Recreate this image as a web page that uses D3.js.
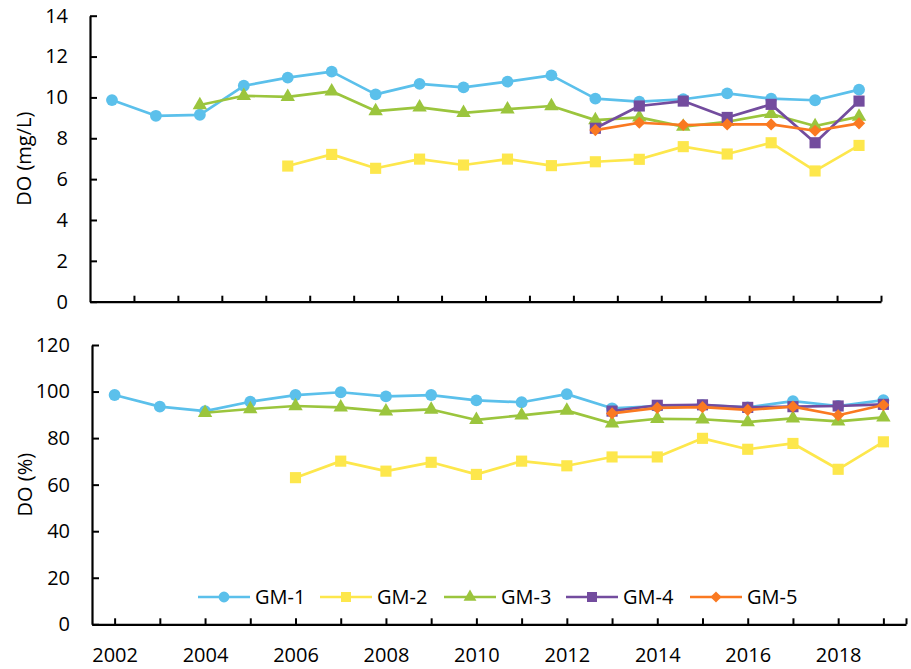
<!DOCTYPE html>
<html>
<head>
<meta charset="utf-8">
<script src="https://cdn.jsdelivr.net/npm/d3@7"></script>
<style>
  html, body { margin: 0; padding: 0; background: #fff; }
  svg { display: block; font-family: "Open Sans", "Noto Sans", sans-serif; }
</style>
</head>
<body>
<svg id="chart" width="911" height="669"></svg>
<script>
// Years sampled
const years = [2002, 2003, 2004, 2005, 2006, 2007, 2008, 2009, 2010,
               2011, 2012, 2013, 2014, 2015, 2016, 2017, 2018, 2019];

// Station names
const stations = ["GM-1", "GM-2", "GM-3", "GM-4", "GM-5"];

// Dissolved oxygen concentration (mg/L); null = not sampled
const doMgGM1 = [9.87, 9.1, 9.15, 10.57, 10.97, 11.26, 10.15, 10.66, 10.49, 10.77, 11.08, 9.94, 9.79, 9.91, 10.2, 9.94, 9.86, 10.38];
const doMgGM2 = [null, null, null, null, 6.64, 7.21, 6.53, 6.98, 6.69, 6.98, 6.66, 6.85, 6.97, 7.59, 7.23, 7.78, 6.4, 7.65];
const doMgGM3 = [null, null, 9.63, 10.08, 10.03, 10.3, 9.33, 9.51, 9.24, 9.42, 9.58, 8.89, 9.02, 8.57, 8.81, 9.19, 8.6, 9.06];
const doMgGM4 = [null, null, null, null, null, null, null, null, null, null, null, 8.49, 9.58, 9.82, 9.02, 9.66, 7.78, 9.82];
const doMgGM5 = [null, null, null, null, null, null, null, null, null, null, null, 8.4, 8.76, 8.65, 8.68, 8.68, 8.37, 8.73];

// Dissolved oxygen saturation (%); null = not sampled
const doPctGM1 = [98.5, 93.5, 91.6, 95.6, 98.5, 99.7, 97.9, 98.5, 96.2, 95.4, 98.9, 92.8, 93.7, 94.2, 93.2, 95.9, 93.8, 96.3];
const doPctGM2 = [null, null, null, null, 63.0, 70.1, 65.8, 69.6, 64.4, 70.1, 68.1, 71.9, 71.9, 79.9, 75.2, 77.7, 66.6, 78.4];
const doPctGM3 = [null, null, 90.9, 92.5, 93.8, 93.2, 91.5, 92.3, 87.8, 89.8, 91.8, 86.3, 88.3, 88.1, 86.9, 88.5, 87.2, 88.9];
const doPctGM4 = [null, null, null, null, null, null, null, null, null, null, null, 91.6, 94.1, 94.3, 93.2, 93.5, 93.8, 94.5];
const doPctGM5 = [null, null, null, null, null, null, null, null, null, null, null, 90.6, 93.0, 93.3, 92.1, 93.5, 89.8, 94.2];

// Axis ticks
const mgTicks = [0, 2, 4, 6, 8, 10, 12, 14];
const pctTicks = [0, 20, 40, 60, 80, 100, 120];
const yearLabels = [2002, 2004, 2006, 2008, 2010, 2012, 2014, 2016, 2018];

const colors = ["#5BC0EB", "#FDE74C", "#9BC53D", "#734C9E", "#FA7921"];
// marker shape, area and rotation per station (GM-5 is a square turned 45°)
const shapes = [d3.symbolCircle, d3.symbolSquare, d3.symbolTriangle, d3.symbolSquare, d3.symbolSquare];
const rotations = [0, 0, 0, 0, 45];
const markerArea = [110, 124, 90, 124, 74];
const legendArea = [92, 100, 72, 100, 62];

const mgSeries = [doMgGM1, doMgGM2, doMgGM3, doMgGM4, doMgGM5];
const pctSeries = [doPctGM1, doPctGM2, doPctGM3, doPctGM4, doPctGM5];

const svg = d3.select("#chart");
const FONT = 20;

function drawSeries(g, series, xOf, y) {
  series.forEach((vals, s) => {
    const pts = years.map((yr, i) => ({ yr, i, v: vals[i] })).filter(d => d.v !== null);
    const line = d3.line().x(d => xOf(d)).y(d => y(d.v));
    g.append("path")
      .datum(pts)
      .attr("fill", "none")
      .attr("stroke", colors[s])
      .attr("stroke-width", 2.7)
      .attr("stroke-linejoin", "round")
      .attr("d", line);
    g.selectAll(null)
      .data(pts)
      .join("path")
      .attr("transform", d => `translate(${xOf(d)},${y(d.v)}) rotate(${rotations[s]})`)
      .attr("d", d3.symbol().type(shapes[s]).size(markerArea[s]))
      .attr("fill", colors[s]);
  });
}

function styleAxis(g) {
  g.selectAll(".domain").attr("stroke", "#000").attr("stroke-width", 2.2);
  g.selectAll(".tick line").attr("stroke", "#000").attr("stroke-width", 2);
  g.selectAll(".tick text").attr("fill", "#000").attr("font-size", FONT);
  g.attr("font-family", null);
}

// ---------- Upper panel: concentration ----------
const upper = { left: 90, right: 881, top: 15.7, bottom: 301.7 };
const xBand = d3.scaleBand().domain(years).range([upper.left, upper.right]).paddingInner(0).paddingOuter(0);
const xEdge = d3.scaleLinear().domain([0, years.length]).range([upper.left, upper.right]);
const yMg = d3.scaleLinear().domain([0, 14]).range([upper.bottom, upper.top]);

const gUpper = svg.append("g");
drawSeries(gUpper, mgSeries, d => xBand(d.yr) + xBand.bandwidth() / 2, yMg);

const upperX = svg.append("g")
  .attr("transform", `translate(0,${upper.bottom})`)
  .call(d3.axisBottom(xEdge).tickValues(d3.range(1, years.length + 1)).tickSize(-6).tickSizeOuter(0).tickFormat(""));
styleAxis(upperX);

const upperY = svg.append("g")
  .attr("transform", `translate(${upper.left},0)`)
  .call(d3.axisLeft(yMg).tickValues(mgTicks).tickSize(-7).tickSizeOuter(0).tickPadding(22));
styleAxis(upperY);

svg.append("text")
  .attr("transform", `translate(31,${(upper.top + upper.bottom) / 2}) rotate(-90)`)
  .attr("text-anchor", "middle")
  .attr("font-size", FONT)
  .text("DO (mg/L)");

// ---------- Lower panel: saturation ----------
const lower = { left: 92, right: 906, top: 345, bottom: 624.3 };
const xYear = d3.scaleLinear().domain([2001.5, 2019.5]).range([lower.left, lower.right]);
const yPct = d3.scaleLinear().domain([0, 120]).range([lower.bottom, lower.top]);

const gLower = svg.append("g");
drawSeries(gLower, pctSeries, d => xYear(d.yr), yPct);

const lowerX = svg.append("g")
  .attr("transform", `translate(0,${lower.bottom})`)
  .call(d3.axisBottom(xYear).tickValues(years.concat([2019.5])).tickSize(-6).tickSizeOuter(0).tickPadding(24)
    .tickFormat(d => yearLabels.includes(d) ? String(d) : ""));
styleAxis(lowerX);

const lowerY = svg.append("g")
  .attr("transform", `translate(${lower.left},0)`)
  .call(d3.axisLeft(yPct).tickValues(pctTicks).tickSize(-7).tickSizeOuter(0).tickPadding(22));
styleAxis(lowerY);

svg.append("text")
  .attr("transform", `translate(32,${(lower.top + lower.bottom) / 2}) rotate(-90)`)
  .attr("text-anchor", "middle")
  .attr("font-size", FONT)
  .text("DO (%)");

// ---------- Legend ----------
const legendX = [198, 320, 444, 566, 690];
const legendY = 597;
const leg = svg.append("g");
stations.forEach((name, s) => {
  const g = leg.append("g").attr("transform", `translate(${legendX[s]},${legendY})`);
  g.append("line").attr("x1", 0).attr("x2", 52).attr("y1", 0).attr("y2", 0)
    .attr("stroke", colors[s]).attr("stroke-width", 2.6);
  g.append("path").attr("transform", `translate(26,0) rotate(${rotations[s]})`)
    .attr("d", d3.symbol().type(shapes[s]).size(legendArea[s]))
    .attr("fill", colors[s]);
  g.append("text").attr("x", 57).attr("y", 0).attr("dy", "0.35em")
    .attr("font-size", FONT).attr("fill", "#000").text(name);
});
</script>
</body>
</html>
